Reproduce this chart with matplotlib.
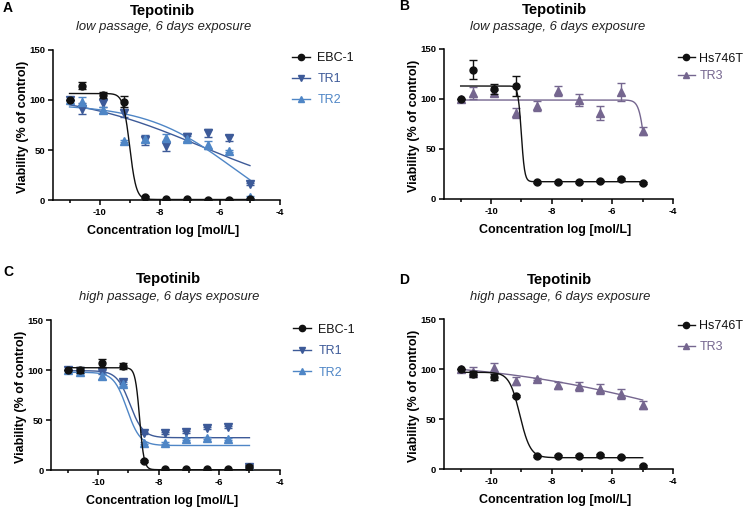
import numpy as np
import matplotlib
matplotlib.use("Agg")
import matplotlib.pyplot as plt
from matplotlib.lines import Line2D
from matplotlib.ticker import MultipleLocator

plt.rcParams['font.family'] = ['Liberation Sans', 'DejaVu Sans']
plt.rcParams['axes.unicode_minus'] = False

# log concentration [mol/L], 5-fold dilutions (first one = control)
conc = [-11.0, -10.59, -9.89, -9.19, -8.49, -7.80, -7.10, -6.40, -5.70, -5.00]

# panel A: low passage, EBC-1 / TR1 / TR2
a_ebc1 = [100, 114, 105, 98, 3, 0.7, 0.7, 0.5, 0.5, 1]
a_ebc1_err = [0, 3.5, 3, 5.5, 1, 0.5, 0.5, 0.5, 0.5, 0.5]
a_tr1 = [100, 91, 97, 87, 60, 54, 63, 67, 62, 16]
a_tr1_err = [0, 5.5, 4, 4, 5, 5, 4, 4, 3, 1]
a_tr2 = [100, 98, 90, 59, 61, 62, 61, 55, 49, 3]
a_tr2_err = [0, 5, 3, 1, 3, 4, 3, 4, 1, 1]

# panel B: low passage, Hs746T / TR3
b_hs = [100, 129, 110, 113, 16.7, 17.3, 17.3, 18.3, 19.7, 16.3]
b_hs_err = [0, 9.5, 5, 10, 1, 1, 1, 1, 1, 1]
b_tr3 = [100, 106, 106, 86, 93, 108, 99, 85.7, 106.7, 68.3]
b_tr3_err = [0, 6, 3, 5, 5, 5, 6, 7, 9, 4]

# panel C: high passage, EBC-1 / TR1 / TR2
c_ebc1 = [100, 100, 107.3, 104, 9.3, 0.7, 0.7, 0.7, 0.7, 2.7]
c_ebc1_err = [0, 3, 4, 3, 1, 0.5, 0.5, 0.5, 0.5, 2.5]
c_tr1 = [100, 99.3, 98.3, 88.3, 37.3, 37.3, 38.3, 41.7, 42.7, 3.3]
c_tr1_err = [0, 1, 2, 2, 1, 1, 1, 1, 1, 1]
c_tr2 = [100, 98, 94, 86, 27.3, 27.3, 30.7, 31.7, 31, 1.7]
c_tr2_err = [0, 1, 3, 2, 1, 1, 1, 1, 1, 1]

# panel D: high passage, Hs746T / TR3
d_hs = [100, 95, 92.6, 73.3, 13.6, 13.6, 13.3, 14, 12.6, 3.6]
d_hs_err = [0, 3, 3, 1, 1, 1, 1, 1, 1, 1]
d_tr3 = [100, 97.6, 101.6, 88.3, 90, 84.3, 83.3, 80.3, 75.3, 64.3]
d_tr3_err = [0, 5, 4.5, 4, 1, 3.5, 4.5, 5, 5, 4]

# 4PL fit parameters: top, bottom, logIC50, hill
a_fit_ebc1 = [106.5, 0.5, -9.0, 4]
a_fit_tr1 = [108, 0, -6.65, 0.2]
a_fit_tr2 = [96, -30, -5.6, 0.3]
b_fit_hs = [113, 17.3, -9.0, 8]
b_fit_tr3 = [99, 0, -4.92, 4.5]
c_fit_ebc1 = [102.3, 0.3, -8.63, 6]
c_fit_tr1 = [99.3, 32.3, -8.95, 2]
c_fit_tr2 = [97.7, 24.5, -9.05, 2]
d_fit_hs = [97, 11.6, -9.05, 2.5]
d_fit_tr3 = [110, 0, -3.2, 0.128]

black = '#111111'
tr1_col = '#3D5A98'
tr2_col = '#4F86C6'
tr3_col = '#75668F'


def fit4(x, p):
    top, bottom, ic50, hill = p
    return bottom + (top - bottom) / (1 + 10 ** ((x - ic50) * hill))


def panel(ax, series, letter, sub, lpos, tpos, spos, leg):
    xs = np.linspace(conc[0], conc[-1], 400)
    handles = []
    for name, y, err, p, col, mk, ms in series:
        z = 5 if col == black else 3
        ax.plot(xs, fit4(xs, p), color=col, lw=1.0, zorder=z)
        ax.errorbar(conc, y, yerr=err, fmt='none', ecolor=col, elinewidth=1,
                    capsize=2.8, capthick=1, zorder=z)
        ax.plot(conc, y, ls='none', marker=mk, ms=ms, color=col, mec=col, zorder=z + 1)
        handles.append(Line2D([], [], color=col, lw=1.0, marker=mk, ms=ms - 0.5))
    ax.set_xlim(-11.55, -4)
    ax.set_ylim(0, 150)
    ax.xaxis.set_minor_locator(MultipleLocator(1))
    ax.set_xticks([-10, -8, -6, -4])
    ax.set_yticks([0, 50, 100, 150])
    for s in ['top', 'right']:
        ax.spines[s].set_visible(False)
    for s in ['left', 'bottom']:
        ax.spines[s].set_linewidth(1.1)
    ax.tick_params(which='major', length=3.5, width=1.1, labelsize=6.8, pad=2)
    ax.tick_params(which='minor', length=2.2, width=1.1)
    for t in ax.get_xticklabels() + ax.get_yticklabels():
        t.set_fontweight('bold')
    ax.set_ylabel('Viability (% of control)', fontsize=9, fontweight='bold', va='center')
    ax.yaxis.set_label_coords(-0.133, 0.49)
    ax.set_xlabel('Concentration log [mol/L]', fontsize=9, fontweight='bold', va='center')
    ax.xaxis.set_label_coords(0.487, -0.205)
    lx, ly, lsp, tpad = leg
    ax.legend(handles, [s[0] for s in series], loc='upper left',
              bbox_to_anchor=(lx, ly), frameon=False, fontsize=9,
              borderpad=0, borderaxespad=0, handlelength=1.4,
              handletextpad=tpad, labelspacing=lsp,
              labelcolor=[s[4] for s in series])
    fig.text(lpos[0] / 747, 1 - lpos[1] / 509, letter, fontsize=10, fontweight='bold',
             ha='center', va='center')
    fig.text(tpos[0] / 747, 1 - tpos[1] / 509, 'Tepotinib', fontsize=10.7,
             fontweight='bold', ha='center', va='center')
    fig.text(spos[0] / 747, 1 - spos[1] / 509, sub, fontsize=9.4,
             style='italic', ha='center', va='center', color='#222222')


fig = plt.figure(figsize=(7.47, 5.09), dpi=100)
axA = fig.add_axes([53 / 747, 309 / 509, 227 / 747, 150 / 509])
axB = fig.add_axes([444 / 747, 310 / 509, 229 / 747, 150 / 509])
axC = fig.add_axes([51.3 / 747, 39 / 509, 228.4 / 747, 150 / 509])
axD = fig.add_axes([444 / 747, 39.7 / 509, 229 / 747, 150 / 509])

panel(axA, [
    ('EBC-1', a_ebc1, a_ebc1_err, a_fit_ebc1, black, 'o', 5),
    ('TR1', a_tr1, a_tr1_err, a_fit_tr1, tr1_col, 'v', 5.5),
    ('TR2', a_tr2, a_tr2_err, a_fit_tr2, tr2_col, '^', 5.5),
], 'A', 'low passage, 6 days exposure', (8, 7.5), (162, 10.7), (164, 26.7),
    (1.055, 0.985, 0.72, 0.6))

panel(axB, [
    ('Hs746T', b_hs, b_hs_err, b_fit_hs, black, 'o', 5),
    ('TR3', b_tr3, b_tr3_err, b_fit_tr3, tr3_col, '^', 5.5),
], 'B', 'low passage, 6 days exposure', (404, 6), (554, 10), (558, 26.7),
    (1.02, 0.975, 0.45, 0.35))

panel(axC, [
    ('EBC-1', c_ebc1, c_ebc1_err, c_fit_ebc1, black, 'o', 5),
    ('TR1', c_tr1, c_tr1_err, c_fit_tr1, tr1_col, 'v', 5.5),
    ('TR2', c_tr2, c_tr2_err, c_fit_tr2, tr2_col, '^', 5.5),
], 'C', 'high passage, 6 days exposure', (8, 271.5), (168, 279), (169, 297.3),
    (1.06, 0.975, 0.75, 0.6))

panel(axD, [
    ('Hs746T', d_hs, d_hs_err, d_fit_hs, black, 'o', 5),
    ('TR3', d_tr3, d_tr3_err, d_fit_tr3, tr3_col, '^', 5.5),
], 'D', 'high passage, 6 days exposure', (404, 280), (559, 280), (560, 297.3),
    (1.02, 0.995, 0.75, 0.35))

fig.savefig('out.png', dpi=100)
